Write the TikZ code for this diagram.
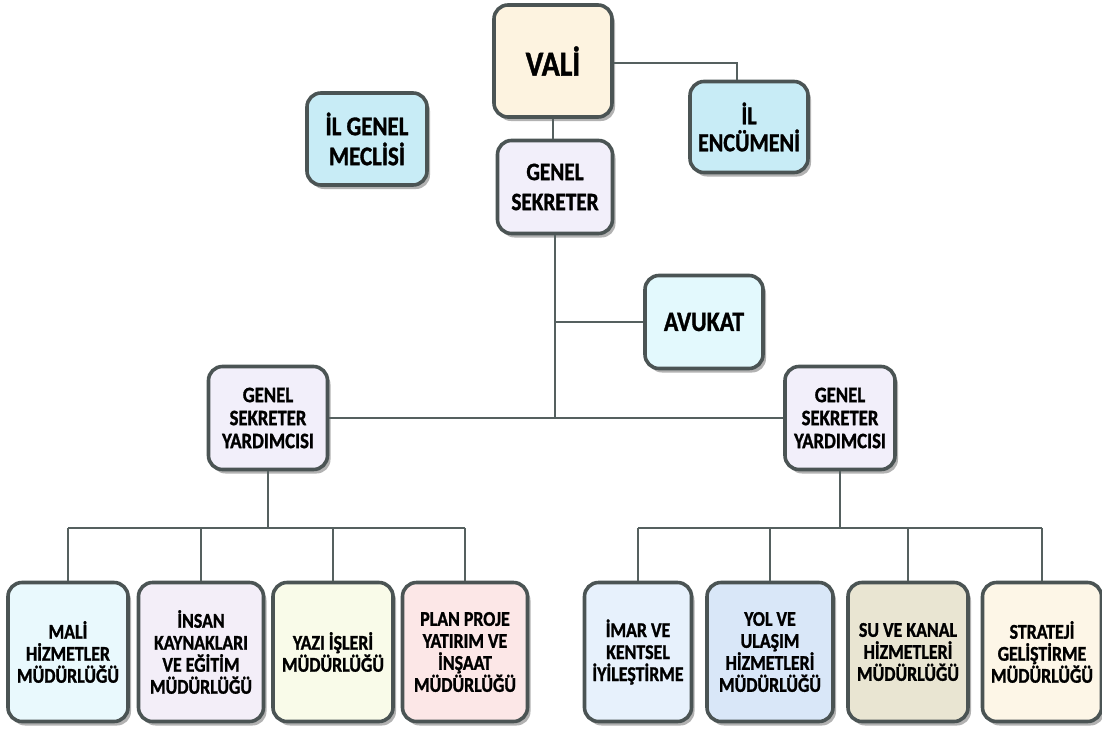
\documentclass[tikz,border=0pt]{standalone}
\usepackage{fontspec}
\setmainfont{Carlito}[FakeStretch=0.85, BoldFeatures={FakeBold=1.2}]
\usetikzlibrary{shadows}

\definecolor{frame}{HTML}{4B5454}
\definecolor{wire}{HTML}{55605F}
\definecolor{cvali}{HTML}{FDF3E0}
\definecolor{ccyan}{HTML}{C8ECF6}
\definecolor{clav}{HTML}{F2EFFA}
\definecolor{cavukat}{HTML}{E3F9FD}
\definecolor{cmali}{HTML}{E9F9FD}
\definecolor{cinsan}{HTML}{F3EEF8}
\definecolor{cyazi}{HTML}{F9FBE9}
\definecolor{cplan}{HTML}{FCE7E7}
\definecolor{cimar}{HTML}{E7F1FC}
\definecolor{cyol}{HTML}{D9E7F8}
\definecolor{csu}{HTML}{E9E5D2}
\definecolor{cstrat}{HTML}{FDF6E7}

\tikzset{
  box/.style={draw=frame, line width=3.6pt, rounded corners=14pt,
    align=center, inner sep=2pt,
    drop shadow={shadow xshift=3pt, shadow yshift=-4pt, opacity=0.3, fill=black}},
  unitbox/.style={box, minimum height=139pt,
    font=\fontsize{21}{22}\selectfont\bfseries},
  line/.style={draw=wire, line width=2.2pt}
}

\begin{document}
\begin{tikzpicture}[x=1pt,y=-1pt]
	\useasboundingbox (0,0) rectangle (1102,731);
	
	% top level
	\node[box, fill=cvali, minimum width=118pt, minimum height=112pt,
	  font=\fontsize{35}{38}\selectfont\bfseries] (vali) at (553,61) {VALİ};
	\node[box, fill=ccyan, minimum width=118pt, minimum height=91pt,
	  font=\fontsize{26}{27}\selectfont\bfseries] (encumen) at (749,127) {İL\\ENCÜMENİ};
	\node[box, fill=ccyan, minimum width=120pt, minimum height=92pt,
	  font=\fontsize{27}{30}\selectfont\bfseries] (meclis) at (367,139) {İL GENEL\\MECLİSİ};
	\node[box, fill=clav, minimum width=115pt, minimum height=93pt,
	  font=\fontsize{25}{30}\selectfont\bfseries] (gs) at (555,187) {GENEL\\SEKRETER};
	\node[box, fill=cavukat, minimum width=118pt, minimum height=93pt,
	  font=\fontsize{28}{30}\selectfont\bfseries] (avukat) at (704,322) {AVUKAT};
	
	% deputies
	\node[box, fill=clav, minimum width=119pt, minimum height=103pt,
	  font=\fontsize{22}{23}\selectfont\bfseries] (gsyl) at (268,418) {GENEL\\SEKRETER\\YARDIMCISI};
	\node[box, fill=clav, minimum width=110pt, minimum height=103pt,
	  font=\fontsize{22}{23}\selectfont\bfseries] (gsyr) at (840,418) {GENEL\\SEKRETER\\YARDIMCISI};
	
	% left units
	\node[unitbox, fill=cmali, minimum width=120pt] (mali) at (68,652) {MALİ\\HİZMETLER\\MÜDÜRLÜĞÜ};
	\node[unitbox, fill=cinsan, minimum width=125pt] (insan) at (201,652) {İNSAN\\KAYNAKLARI\\VE EĞİTİM\\MÜDÜRLÜĞÜ};
	\node[unitbox, fill=cyazi, minimum width=120pt] (yazi) at (333,652) {YAZI İŞLERİ\\MÜDÜRLÜĞÜ};
	\node[unitbox, fill=cplan, minimum width=125pt] (plan) at (465,652) {PLAN PROJE\\YATIRIM VE\\İNŞAAT\\MÜDÜRLÜĞÜ};
	
	% right units
	\node[unitbox, fill=cimar, minimum width=107pt] (imar) at (638,652) {İMAR VE\\KENTSEL\\İYİLEŞTİRME};
	\node[unitbox, fill=cyol, minimum width=126pt] (yol) at (770,652) {YOL VE\\ULAŞIM\\HİZMETLERİ\\MÜDÜRLÜĞÜ};
	\node[unitbox, fill=csu, minimum width=120pt] (su) at (908,652) {SU VE KANAL\\HİZMETLERİ\\MÜDÜRLÜĞÜ};
	\node[unitbox, fill=cstrat, minimum width=119pt] (strat) at (1042,652) {STRATEJİ\\GELİŞTİRME\\MÜDÜRLÜĞÜ};
	
	% connectors
	\coordinate (lbus) at (268,528);
	\coordinate (rbus) at (840,528);
	\draw[line] ([yshift=-2pt]vali.east) -| ([xshift=-12pt]encumen.north);
	\draw[line] (vali.south) -- (vali.south |- gs.north);
	\draw[line] (gs.south) -- (gs.south |- gsyl.east);
	\draw[line] (avukat.west) -- (avukat.west -| gs.south);
	\draw[line] (gsyl.east) -- (gsyl.east -| gsyr.west);
	\draw[line] (gsyl.south) -- (lbus);
	\draw[line] (gsyr.south) -- (rbus);
	\draw[line] (mali.north |- lbus) -- (plan.north |- lbus);
	\draw[line] (imar.north |- rbus) -- (strat.north |- rbus);
	\foreach \u in {mali,insan,yazi,plan,imar,yol,su,strat}
	  \draw[line] (\u.north |- lbus) -- (\u.north);
\end{tikzpicture}
\end{document}
